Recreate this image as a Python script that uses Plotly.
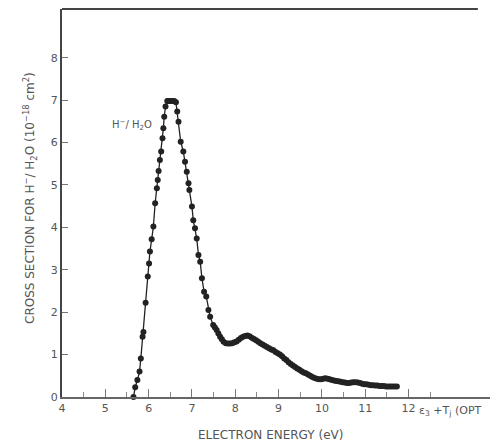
import plotly.graph_objects as go

energy = [5.65, 5.69, 5.74, 5.79, 5.82, 5.86, 5.88, 5.93, 5.98, 6.01,
          6.03, 6.07, 6.11, 6.15, 6.19, 6.21, 6.23, 6.26, 6.29, 6.32,
          6.34, 6.36, 6.39, 6.43, 6.47, 6.51, 6.55, 6.59, 6.63, 6.66,
          6.69, 6.74, 6.80, 6.84, 6.88, 6.92, 6.94, 7.00, 7.03, 7.07,
          7.11, 7.15, 7.19, 7.23, 7.28, 7.33, 7.38, 7.42, 7.49, 7.53,
          7.57, 7.61, 7.65, 7.69, 7.73, 7.78, 7.83, 7.88, 7.93, 7.98,
          8.03, 8.08, 8.13, 8.18, 8.23, 8.28, 8.33, 8.38, 8.43, 8.48,
          8.53, 8.58, 8.63, 8.68, 8.73, 8.78, 8.83, 8.88, 8.93, 8.98,
          9.03, 9.08, 9.13, 9.18, 9.23, 9.28, 9.33, 9.38, 9.43, 9.48,
          9.53, 9.58, 9.63, 9.68, 9.73, 9.78, 9.83, 9.88, 9.93, 9.98,
          10.03, 10.08, 10.13, 10.18, 10.23, 10.28, 10.33, 10.38, 10.43, 10.48,
          10.53, 10.58, 10.63, 10.68, 10.73, 10.78, 10.83, 10.88, 10.93, 10.98,
          11.03, 11.08, 11.13, 11.18, 11.23, 11.28, 11.33, 11.38, 11.43, 11.48,
          11.53, 11.58, 11.63, 11.68, 11.73]

cross_section = [0.00, 0.23, 0.40, 0.60, 0.91, 1.42, 1.53, 2.22, 2.84, 3.15,
                 3.43, 3.72, 4.02, 4.57, 4.92, 5.12, 5.33, 5.59, 5.79, 6.10,
                 6.34, 6.61, 6.85, 6.98, 6.98, 6.98, 6.98, 6.98, 6.95, 6.73,
                 6.49, 6.02, 5.79, 5.55, 5.31, 5.04, 4.88, 4.49, 4.17, 3.98,
                 3.74, 3.35, 3.19, 2.80, 2.48, 2.37, 2.05, 1.89, 1.70, 1.64,
                 1.58, 1.50, 1.42, 1.36, 1.30, 1.27, 1.26, 1.26, 1.27, 1.29,
                 1.31, 1.35, 1.39, 1.42, 1.44, 1.45, 1.43, 1.40, 1.37, 1.34,
                 1.30, 1.27, 1.24, 1.21, 1.18, 1.15, 1.12, 1.10, 1.06, 1.03,
                 1.00, 0.96, 0.91, 0.87, 0.82, 0.78, 0.74, 0.71, 0.67, 0.64,
                 0.61, 0.58, 0.56, 0.53, 0.50, 0.47, 0.45, 0.43, 0.42, 0.42,
                 0.43, 0.44, 0.43, 0.42, 0.40, 0.39, 0.38, 0.37, 0.36, 0.35,
                 0.34, 0.33, 0.33, 0.34, 0.35, 0.35, 0.34, 0.33, 0.31, 0.30,
                 0.30, 0.29, 0.28, 0.28, 0.27, 0.27, 0.26, 0.26, 0.26, 0.25,
                 0.25, 0.25, 0.25, 0.25, 0.25]

x_tick_vals = [4, 5, 6, 7, 8, 9, 10, 11, 12]
x_tick_text = ["4", "5", "6", "7", "8", "9", "10", "11", "12"]
y_tick_vals = [0, 1, 2, 3, 4, 5, 6, 7, 8]
y_tick_text = ["0", "1", "2", "3", "4", "5", "6", "7", "8"]

assert len(energy) == len(cross_section)

ink = "#222222"
gray = "#555555"
font = "DejaVu Sans"

fig = go.Figure()
fig.add_trace(go.Scatter(
    x=energy, y=cross_section, mode="lines+markers",
    line=dict(color=ink, width=1.3),
    marker=dict(color=ink, size=6, symbol="circle"),
    showlegend=False, cliponaxis=False,
))

fig.update_layout(
    width=490, height=442,
    margin=dict(l=62, r=0, t=9, b=45),
    paper_bgcolor="white", plot_bgcolor="white",
    font=dict(family=font, color=gray, size=11),
    xaxis=dict(
        range=[4, 13.88], showgrid=False, zeroline=False,
        showline=True, linecolor="#666666", linewidth=1.5,
        tickmode="array", tickvals=x_tick_vals, ticktext=x_tick_text,
        ticks="inside", ticklen=8, tickwidth=1, tickcolor="#777777",
        minor=dict(tickmode="array", tickvals=[4.5, 5.5, 6.5, 7.5, 8.5, 9.5, 10.5, 11.5, 12.5],
                   ticks="inside", ticklen=5, tickwidth=1, tickcolor="#888888"),
        tickfont=dict(family=font, size=11, color=gray),
    ),
    yaxis=dict(
        range=[0, 9.15], showgrid=False, zeroline=False,
        showline=True, linecolor="#444444", linewidth=2,
        tickmode="array", tickvals=y_tick_vals, ticktext=y_tick_text,
        ticks="inside", ticklen=6, tickwidth=1, tickcolor="#777777",
        tickfont=dict(family=font, size=11, color=gray),
    ),
)

# top frame line
fig.add_shape(type="line", xref="x", yref="paper", x0=4, x1=13.6, y0=1, y1=1,
              line=dict(color="#444444", width=2))

# curve label
fig.add_annotation(x=5.62, y=6.42, xref="x", yref="y",
                   text="H<sup>−</sup>/ H<sub>2</sub>O", showarrow=False,
                   font=dict(family=font, size=10, color=gray))

# extra text after tick 12
fig.add_annotation(x=12.2, y=0, xref="x", yref="y", yshift=-14, xanchor="left",
                   text="ε<sub>3</sub> +T<sub>j</sub> (OPT", showarrow=False,
                   font=dict(family=font, size=11, color=gray))

# axis titles
fig.add_annotation(xref="paper", x=(270 - 62) / 428, yref="paper",
                   y=-(435 - 397) / 388, yanchor="middle", showarrow=False,
                   text="ELECTRON ENERGY (eV)",
                   font=dict(family=font, size=12, color=gray))

fig.add_annotation(xref="paper", yref="paper", x=-(62 - 30) / 428, y=(397 - 198) / 388,
                   text="CROSS SECTION FOR H<sup>−</sup>/ H<sub>2</sub>O (10<sup>−18</sup> cm<sup>2</sup>)",
                   textangle=-90, showarrow=False, xanchor="center", yanchor="middle",
                   font=dict(family=font, size=12, color=gray))

fig.write_html("out.html")
